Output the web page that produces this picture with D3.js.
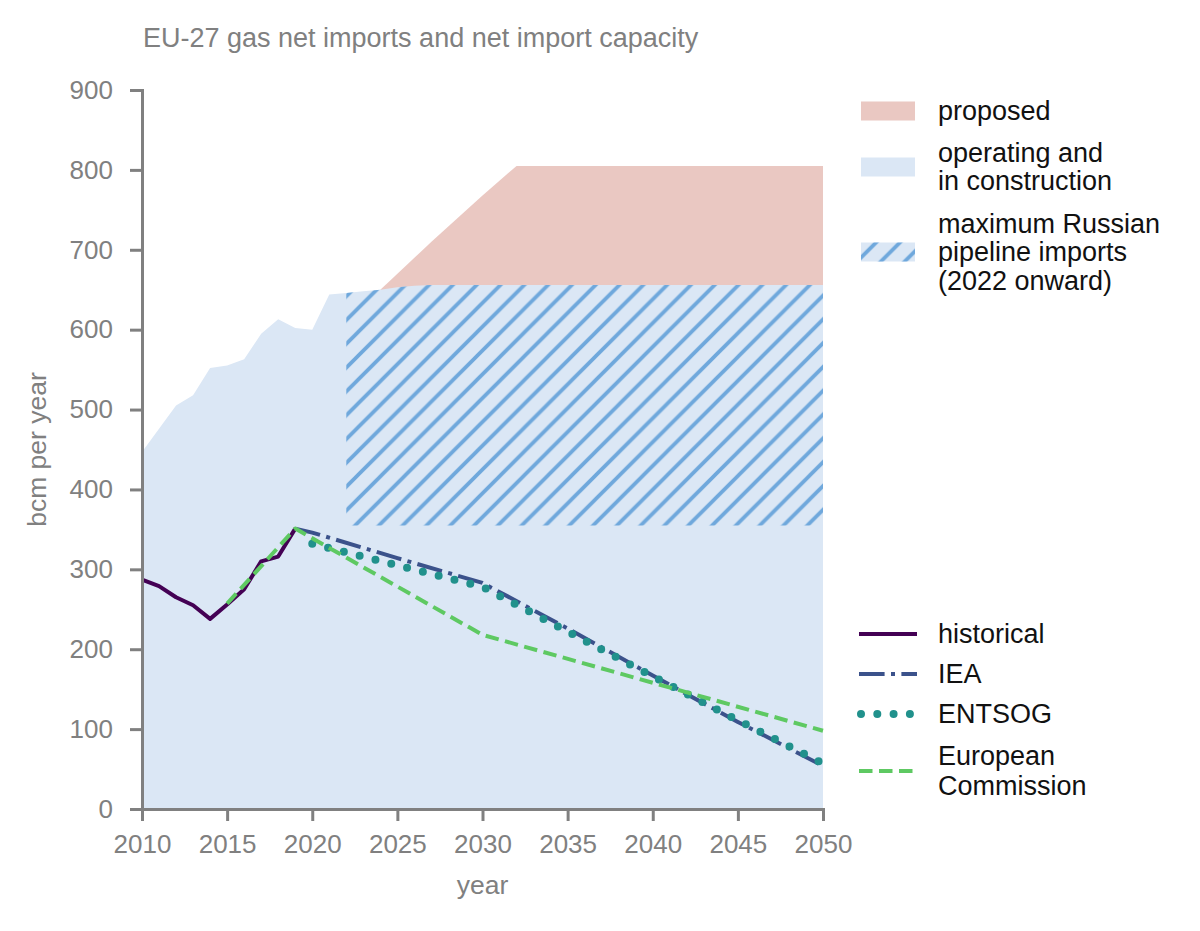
<!DOCTYPE html>
<html>
<head>
<meta charset="utf-8">
<script src="https://cdn.jsdelivr.net/npm/d3@7"></script>
<style>
  body { margin: 0; background: #fff; }
  svg { font-family: "Liberation Sans", Arial, sans-serif; }
  .axis path, .axis line { stroke: #808080; stroke-width: 3; }
  .axis text { fill: #808080; font-size: 26px; }
  .lab { fill: #808080; font-size: 26.5px; }
  .title { fill: #808080; font-size: 27px; }
  .leg text { fill: #111; font-size: 27px; }
</style>
</head>
<body>
<script>
// capacity (bcm per year)
const capYears = [2010, 2011, 2012, 2013, 2014, 2015, 2016, 2017, 2018, 2019, 2020, 2021,
  2022, 2023, 2024, 2025, 2026, 2027, 2050];
const operating = [447, 476, 505, 518, 552, 555, 563, 595, 613, 602, 600, 644,
  646, 648, 650, 653, 655, 656, 656];
const propYears = [2024, 2027, 2030, 2032, 2050];
const proposed = [650, 710, 768, 805, 805];
const russianStart = 2022;
const russianFloor = 355;

// net imports
const histYears = [2010, 2011, 2012, 2013, 2014, 2015, 2016, 2017, 2018, 2019];
const historical = [287, 279, 265, 255, 238, 256, 275, 310, 316, 351];
const ieaYears = [2019, 2020, 2025, 2030, 2035, 2040, 2045, 2050];
const iea = [351, 346, 314, 283, 226, 167, 109, 54];
const entsogYears = [2020, 2025, 2030, 2035, 2040, 2045, 2050];
const entsog = [332, 305, 278, 222, 166, 111, 57];
const ecYears = [2015, 2019, 2030, 2040, 2050];
const ec = [257, 351, 218, 158, 98];

const xTicks = [2010, 2015, 2020, 2025, 2030, 2035, 2040, 2045, 2050];
const yTicks = [0, 100, 200, 300, 400, 500, 600, 700, 800, 900];

const W = 1200, H = 931;
const blue = '#dbe7f5', red = '#eac8c2', hatch = '#6fa8dc';

const svg = d3.select('body').append('svg')
  .attr('width', W).attr('height', H);

const hs = 23.8;
const defs = svg.append('defs');
const pat = defs.append('pattern')
  .attr('id', 'hatch')
  .attr('patternUnits', 'userSpaceOnUse')
  .attr('width', hs).attr('height', hs);
pat.append('path')
  .attr('d', `M-3,3 l6,-6 M0,${hs} l${hs},${-hs} M${hs - 3},${hs + 3} l6,-6`)
  .attr('stroke', hatch).attr('stroke-width', 3.8);

const x = d3.scaleLinear().domain([2010, 2050]).range([142, 823]);
const y = d3.scaleLinear().domain([0, 900]).range([809, 90]);

const zip = (xs, vs) => xs.map((d, i) => ({ x: d, v: vs[i] }));

// proposed (drawn from 0, operating covers the lower part)
svg.append('path')
  .datum(zip(propYears, proposed))
  .attr('fill', red)
  .attr('d', d3.area().x(d => x(d.x)).y0(y(0)).y1(d => y(d.v)));

svg.append('path')
  .datum(zip(capYears, operating))
  .attr('fill', blue)
  .attr('d', d3.area().x(d => x(d.x)).y0(y(0)).y1(d => y(d.v)));

svg.append('path')
  .datum(zip(capYears, operating).filter(d => d.x >= russianStart))
  .attr('fill', 'url(#hatch)')
  .attr('d', d3.area().x(d => x(d.x)).y0(y(russianFloor)).y1(d => y(d.v)));

const line = d3.line().x(d => x(d.x)).y(d => y(d.v));

const series = [
  { name: 'historical', xs: histYears, vs: historical, color: '#440154', w: 4, dash: null },
  { name: 'IEA', xs: ieaYears, vs: iea, color: '#3b528b', w: 4, dash: '25.6 6.4 4 6.4' },
  { name: 'ENTSOG', xs: entsogYears, vs: entsog, color: '#21918c', w: 8, dash: '0 16.3', cap: 'round' },
  { name: 'European Commission', xs: ecYears, vs: ec, color: '#5ec962', w: 4, dash: '13.5 6.5' }
];

series.forEach(s => {
  svg.append('path')
    .datum(zip(s.xs, s.vs))
    .attr('fill', 'none')
    .attr('stroke', s.color)
    .attr('stroke-width', s.w)
    .attr('stroke-dasharray', s.dash)
    .attr('stroke-linecap', s.cap || 'butt')
    .attr('stroke-linejoin', 'round')
    .attr('d', line);
});

// axes
svg.append('g')
  .attr('class', 'axis')
  .attr('transform', `translate(0,${y(0)})`)
  .call(d3.axisBottom(x).tickValues(xTicks).tickFormat(d3.format('d')).tickSize(12).tickSizeOuter(0).tickPadding(14));

svg.append('g')
  .attr('class', 'axis')
  .attr('transform', `translate(${x(2010)},0)`)
  .call(d3.axisLeft(y).tickValues(yTicks).tickSize(12).tickSizeOuter(0).tickPadding(17));

svg.selectAll('.axis .domain').attr('stroke-linecap', 'square');

svg.append('text').attr('class', 'title')
  .attr('x', 143).attr('y', 47)
  .text('EU-27 gas net imports and net import capacity');

svg.append('text').attr('class', 'lab')
  .attr('x', x(2030)).attr('y', 894)
  .attr('text-anchor', 'middle')
  .text('year');

svg.append('text').attr('class', 'lab')
  .attr('transform', `translate(46,${y(450)}) rotate(-90)`)
  .attr('text-anchor', 'middle')
  .text('bcm per year');

// legends
const leg = svg.append('g').attr('class', 'leg');
const areaLegend = [
  { fill: red, lines: ['proposed'], cy: 111 },
  { fill: blue, lines: ['operating and', 'in construction'], cy: 167 },
  { fill: blue, hatch: true, lines: ['maximum Russian', 'pipeline imports', '(2022 onward)'], cy: 252 }
];
areaLegend.forEach(a => {
  leg.append('rect').attr('x', 861).attr('y', a.cy - 9.5)
    .attr('width', 54).attr('height', 19).attr('fill', a.fill);
  if (a.hatch) {
    leg.append('rect').attr('x', 861).attr('y', a.cy - 9.5)
      .attr('width', 54).attr('height', 19).attr('fill', 'url(#hatch)');
  }
  const n = a.lines.length;
  a.lines.forEach((t, i) => {
    leg.append('text').attr('x', 938)
      .attr('y', a.cy + 9 + (i - (n - 1) / 2) * 28.5)
      .text(t);
  });
});

const lineLegend = [
  { s: series[0], lines: ['historical'], cy: 634 },
  { s: series[1], lines: ['IEA'], cy: 674 },
  { s: series[2], lines: ['ENTSOG'], cy: 714 },
  { s: series[3], lines: ['European', 'Commission'], cy: 771 }
];
lineLegend.forEach(l => {
  const s = l.s;
  leg.append('line')
    .attr('x1', s.cap ? 861 : 859).attr('x2', 917)
    .attr('y1', l.cy).attr('y2', l.cy)
    .attr('stroke', s.color).attr('stroke-width', s.w)
    .attr('stroke-dasharray', s.dash)
    .attr('stroke-linecap', s.cap || 'butt');
  const n = l.lines.length;
  l.lines.forEach((t, i) => {
    leg.append('text').attr('x', 938)
      .attr('y', l.cy + 9 + (i - (n - 1) / 2) * 30)
      .text(t);
  });
});
</script>
</body>
</html>
